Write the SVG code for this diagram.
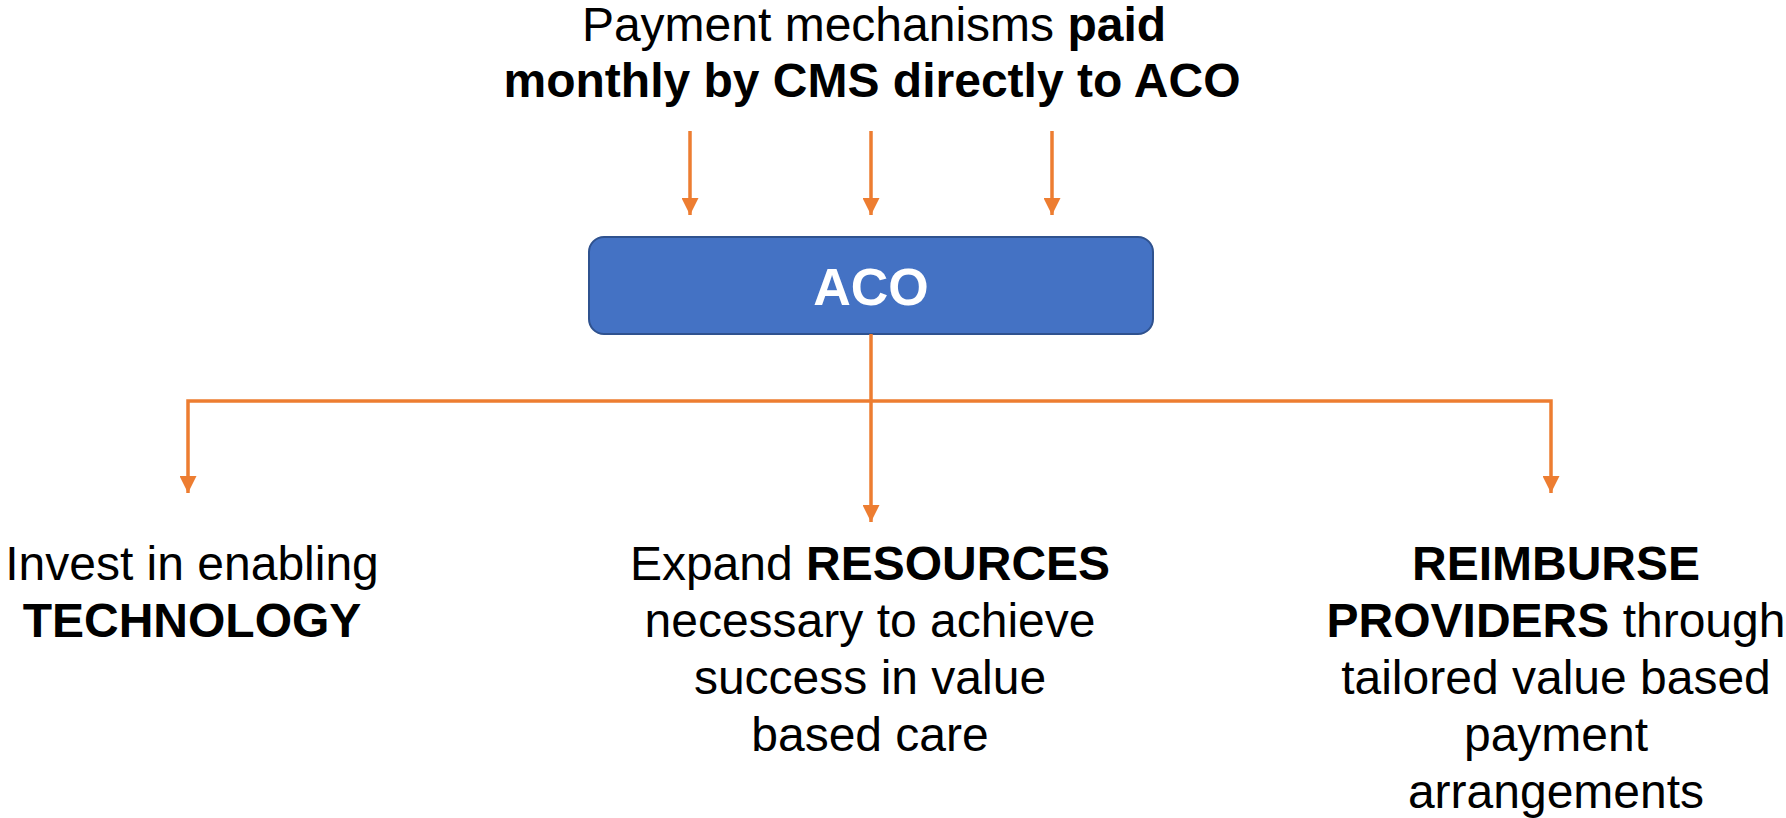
<svg xmlns="http://www.w3.org/2000/svg" width="1786" height="818" viewBox="0 0 1786 818">
  <style>
    text { font-family: "Liberation Sans", Arial, sans-serif; font-size: 48px; fill: #000; text-anchor: middle; }
    .b { font-weight: bold; }
    .conn { fill: none; stroke: #ED7D31; stroke-width: 3.5; }
    .aco-box { fill: #4472C4; stroke: #2F528F; stroke-width: 2; }
    .aco-label { fill: #fff; font-weight: bold; font-size: 52px; }
  </style>
  <defs>
    <marker id="arrow" markerUnits="userSpaceOnUse" markerWidth="17" markerHeight="17" viewBox="0 0 17 17" refX="17" refY="8.5" orient="auto">
      <path d="M0,0 L17,8.5 L0,17 Z" fill="#ED7D31"/>
    </marker>
  </defs>

  <rect width="1786" height="818" fill="#fff"/>

  <!-- Funding source heading -->
  <g id="funding">
    <text x="874" y="41">Payment mechanisms <tspan class="b">paid</tspan></text>
    <text x="872" y="97" class="b">monthly by CMS directly to ACO</text>
  </g>

  <!-- Central ACO node -->
  <g id="aco">
    <rect class="aco-box" x="589" y="237" width="564" height="97" rx="15" ry="15"/>
    <text class="aco-label" x="871" y="305">ACO</text>
  </g>

  <!-- Outcome nodes -->
  <g id="technology">
    <text x="192" y="580">Invest in enabling</text>
    <text x="192" y="637" class="b">TECHNOLOGY</text>
  </g>

  <g id="resources">
    <text x="870" y="580">Expand <tspan class="b">RESOURCES</tspan></text>
    <text x="870" y="637">necessary to achieve</text>
    <text x="870" y="694">success in value</text>
    <text x="870" y="751">based care</text>
  </g>

  <g id="providers">
    <text x="1556" y="580" class="b">REIMBURSE</text>
    <text x="1556" y="637"><tspan class="b">PROVIDERS</tspan> through</text>
    <text x="1556" y="694">tailored value based</text>
    <text x="1556" y="751">payment</text>
    <text x="1556" y="808">arrangements</text>
  </g>

  <!-- Connectors -->
  <g id="connectors">
    <line class="conn" x1="690" y1="131" x2="690" y2="215" marker-end="url(#arrow)"/>
    <line class="conn" x1="871" y1="131" x2="871" y2="215" marker-end="url(#arrow)"/>
    <line class="conn" x1="1052" y1="131" x2="1052" y2="215" marker-end="url(#arrow)"/>

    <line class="conn" x1="871" y1="334" x2="871" y2="522" marker-end="url(#arrow)"/>
    <polyline class="conn" points="871,401 188,401 188,493" marker-end="url(#arrow)"/>
    <polyline class="conn" points="871,401 1551,401 1551,493" marker-end="url(#arrow)"/>
  </g>
</svg>
